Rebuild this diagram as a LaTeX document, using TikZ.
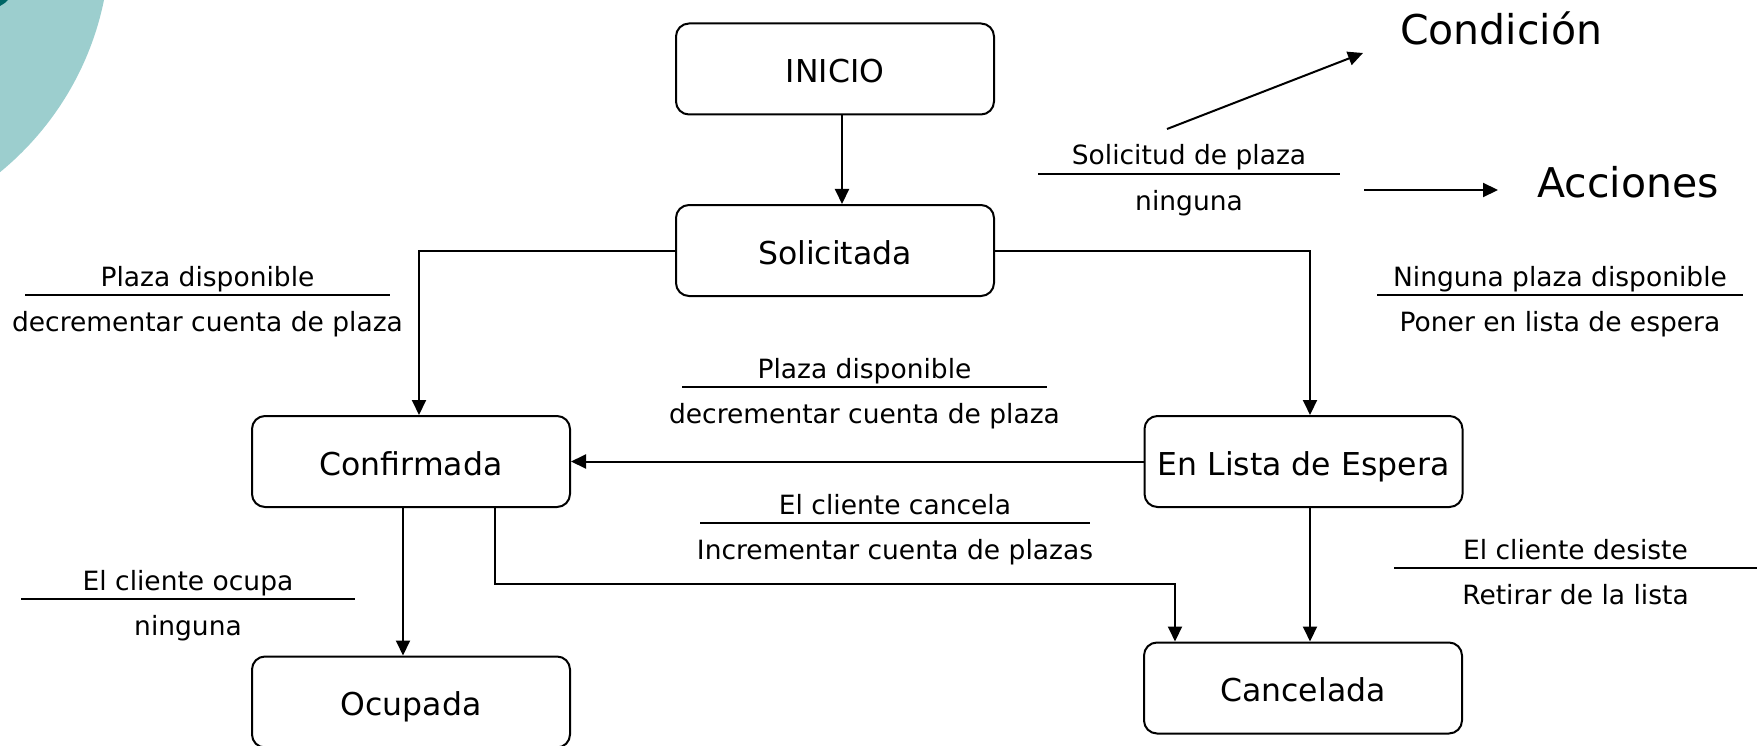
\documentclass[tikz,border=0pt]{standalone}
\usepackage{fontspec}
\setmainfont{DejaVu Sans}
\usetikzlibrary{arrows.meta}

\definecolor{circleteal}{RGB}{156,206,206}
\definecolor{darkteal}{RGB}{0,102,102}

\begin{document}
\begin{tikzpicture}[x=1pt, y=-1pt]
    \tikzset{state/.style={draw, line width=2pt, rounded corners=13pt,
        minimum width=318pt, minimum height=91pt, inner sep=0pt,
        font=\fontsize{31.5}{37}\selectfont, text height=27pt, text depth=0pt
      },
      guard/.style={anchor=base, inner sep=0pt, font=\fontsize{26.5}{32}\selectfont},
      legend/.style={anchor=base west, inner sep=0pt, font=\fontsize{41}{49}\selectfont},
      trans/.style={line width=2pt, -{Triangle[length=15pt,width=14pt]}},
      bar/.style={line width=2pt}
    }

    \useasboundingbox (0,0) rectangle (1763,746);
    \begin{scope}
      \clip (0,0) rectangle (1763,746);
      \fill[circleteal] (-190,-60) circle[radius=300pt];
      \fill[darkteal] (0,0) -- (8,0) .. controls (5,3) .. (0,6) -- cycle;
    \end{scope}

    \node[state] (ini) at (835,69) {INICIO};
    \node[state] (sol) at (835,250.5) {Solicitada};
    \node[state] (conf) at (411,461.5) {Confirmada};
    \node[state] (esp) at (1303.5,461.5) {En Lista de Espera};
    \node[state] (ocu) at (411,702) {Ocupada};
    \node[state] (can) at (1303,688) {Cancelada};

    \draw[trans] ([xshift=7pt]ini.south) -- ([xshift=7pt]sol.north);
    \draw[trans] (sol.west) -| ([xshift=8pt]conf.north);
    \draw[trans] (sol.east) -| ([xshift=6.5pt]esp.north);
    \draw[trans] (esp.west) -- (conf.east);
    \draw[trans] ([xshift=-8pt]conf.south) -- ([xshift=-8pt]ocu.north);
    \draw[trans] ([xshift=84pt]conf.south) -- ++(0,76) -| ([xshift=-128pt]can.north);
    \draw[trans] ([xshift=6.5pt]esp.south) -- ([xshift=7pt]can.north);

    % legend
    \node[legend] (cond) at (1400,45) {Condición};
    \node[legend] (acc) at (1537,197) {Acciones};
    \coordinate (cfrom) at (1167,129);
    \coordinate (cto) at (1363,53);
    \coordinate (afrom) at (1364,190);
    \coordinate (ato) at (1498,190);
    \draw[trans] (cfrom) -- (cto);
    \draw[trans] (afrom) -- (ato);

    % condition / action labels
    \coordinate (g1) at (1189,174);
    \draw[bar] ([xshift=-151pt]g1) -- ([xshift=151pt]g1);
    \node[guard] (g1c) at ([yshift=9pt]g1) {Solicitud de plaza};
    \node[guard] (g1a) at ([yshift=-36.5pt]g1) {ninguna};

    \coordinate (g2) at (207.5,295);
    \draw[bar] ([xshift=-182.5pt]g2) -- ([xshift=182.5pt]g2);
    \node[guard] (g2c) at ([yshift=9pt]g2) {Plaza disponible};
    \node[guard] (g2a) at ([yshift=-36.5pt]g2) {decrementar cuenta de plaza};

    \coordinate (g3) at (1560,295);
    \draw[bar] ([xshift=-183pt]g3) -- ([xshift=183pt]g3);
    \node[guard] (g3c) at ([yshift=9pt]g3) {Ninguna plaza disponible};
    \node[guard] (g3a) at ([yshift=-36.5pt]g3) {Poner en lista de espera};

    \coordinate (g4) at (864.5,387);
    \draw[bar] ([xshift=-182.5pt]g4) -- ([xshift=182.5pt]g4);
    \node[guard] (g4c) at ([yshift=9pt]g4) {Plaza disponible};
    \node[guard] (g4a) at ([yshift=-36.5pt]g4) {decrementar cuenta de plaza};

    \coordinate (g5) at (895,523);
    \draw[bar] ([xshift=-195pt]g5) -- ([xshift=195pt]g5);
    \node[guard] (g5c) at ([yshift=9pt]g5) {El cliente cancela};
    \node[guard] (g5a) at ([yshift=-36.5pt]g5) {Incrementar cuenta de plazas};

    \coordinate (g6) at (188,599);
    \draw[bar] ([xshift=-167pt]g6) -- ([xshift=167pt]g6);
    \node[guard] (g6c) at ([yshift=9pt]g6) {El cliente ocupa};
    \node[guard] (g6a) at ([yshift=-36.5pt]g6) {ninguna};

    \coordinate (g7) at (1575.5,568);
    \draw[bar] ([xshift=-181.5pt]g7) -- ([xshift=181.5pt]g7);
    \node[guard] (g7c) at ([yshift=9pt]g7) {El cliente desiste};
    \node[guard] (g7a) at ([yshift=-36.5pt]g7) {Retirar de la lista};
\end{tikzpicture}
\end{document}
